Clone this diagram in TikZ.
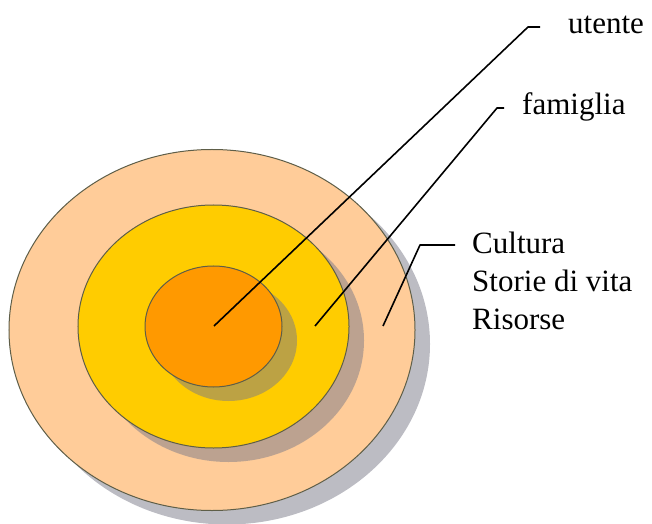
\documentclass[tikz,border=0pt]{standalone}
\usepackage{fontspec}
\setmainfont{Liberation Serif}
\usetikzlibrary{shapes.geometric,shadows}
\definecolor{peach}{HTML}{FFCC99}
\definecolor{gold}{HTML}{FFCC00}
\definecolor{orng}{HTML}{FF9900}
\definecolor{rim}{HTML}{5E5E48}
\definecolor{shade}{HTML}{7A7A88}
\tikzset{
  ring/.style={ellipse, draw=rim, line width=1bp, inner sep=0pt,
    drop shadow={shadow xshift=15bp, shadow yshift=-14bp, fill=shade, opacity=0.5}},
  lead/.style={draw=black, line width=1.6bp, line join=round},
  lbl/.style={font=\fontsize{31bp}{38bp}\selectfont, inner sep=0pt, text=black}
}
\begin{document}
\begin{tikzpicture}[x=1bp,y=-1bp]
\useasboundingbox (0,0) rectangle (652,524);
\node[ring, fill=peach, minimum width=406bp, minimum height=361bp] (outer) at (212,330) {};
\node[ring, fill=gold, minimum width=271bp, minimum height=243bp] (middle) at (213.5,326.5) {};
\node[ring, fill=orng, minimum width=137bp, minimum height=121bp] (inner) at (213.5,326.5) {};
\coordinate (pu) at (214,326);
\coordinate (pf) at (315,326);
\coordinate (pc) at (383,326);
\coordinate (ku) at (528,27);
\coordinate (eu) at (540,27);
\coordinate (kf) at (497,108);
\coordinate (ef) at (504,108);
\coordinate (kc) at (420,245);
\coordinate (ec) at (455,245);
\node[lbl, anchor=base west] (utente) at (568,34) {utente};
\node[lbl, anchor=base west] (famiglia) at (522,115) {famiglia};
\node[lbl, anchor=north west, align=left] (cultura) at (472,232) {Cultura\\Storie di vita\\Risorse};
\draw[lead] (pu) -- (ku) -- (eu);
\draw[lead] (pf) -- (kf) -- (ef);
\draw[lead] (pc) -- (kc) -- (ec);
\end{tikzpicture}
\end{document}
